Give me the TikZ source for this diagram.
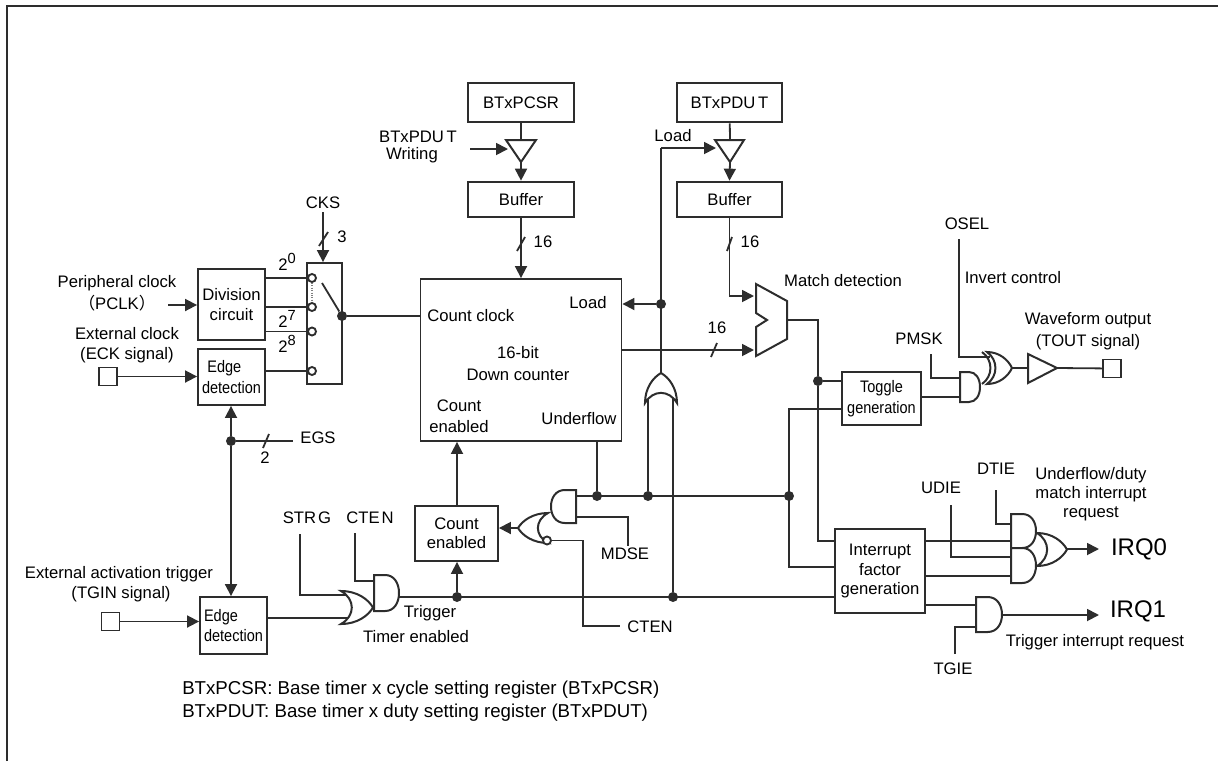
\documentclass[tikz,border=0pt]{standalone}
\usepackage{fontspec}
\setmainfont{Liberation Sans}
\newfontfamily\cjkparen{Noto Sans CJK SC}
\newfontfamily\tightfont[FakeStretch=0.87]{Liberation Sans}
\usetikzlibrary{positioning, arrows.meta}
\definecolor{wirecol}{RGB}{45,45,45}
\newcommand{\tfs}{\fontsize{12.5}{14.4}\selectfont}
\newcommand{\powlab}[1]{2\raisebox{5pt}{\fontsize{11}{11}\selectfont #1}}

\tikzset{
  wire/.style={draw=wirecol, line width=1.35pt},
  feed/.style={wire, -{Triangle[length=9pt,width=9pt]}},
  blockbox/.style 2 args={draw=wirecol, line width=1.4pt, fill=white,
                  minimum width=#1*0.75pt, minimum height=#2*0.75pt,
                  align=center, inner sep=0pt, font=\tfs},
  regbox/.style 2 args={blockbox={#1}{#2}, line width=2pt},
  pad/.style={draw=wirecol, line width=1.2pt, fill=white, minimum width=13.5pt, minimum height=13.5pt, inner sep=0pt},
  junction/.style={circle, fill=wirecol, minimum size=7.5pt, inner sep=0pt},
  contact/.style={circle, draw=wirecol, fill=white, line width=1.4pt, minimum size=6pt, inner sep=0pt},
  label/.style={font=\tfs, text=black, inner sep=0pt, align=center},
  legendtext/.style={label, anchor=west, font=\fontsize{14}{17}\selectfont},
  gate/.style={draw=wirecol, line width=1.5pt, fill=white},
  pics/andgate/.style={code={
    \path[gate] (0,-1) -- (0.45,-1) .. controls (0.8,-1) and (1,-0.55) .. (1,0)
      .. controls (1,0.55) and (0.8,1) .. (0.45,1) -- (0,1) -- cycle;
  }},
  pics/orgate/.style={code={
    \path[gate] (0,-1) .. controls (0.45,-0.5) and (0.45,0.5) .. (0,1)
      .. controls (0.5,1) and (0.85,0.5) .. (1,0)
      .. controls (0.85,-0.5) and (0.5,-1) .. (0,-1) -- cycle;
  }},
  pics/xorback/.style={code={
    \path[gate, fill=none] (0,-1) .. controls (0.45,-0.5) and (0.45,0.5) .. (0,1);
  }},
}

\begin{document}
\begin{tikzpicture}[x=0.75pt, y=-0.75pt]
\useasboundingbox (0,0) rectangle (1218,761);

% outer frame
\coordinate (frameBL) at (7,761);
\coordinate (frameTL) at (7,6);
\coordinate (frameTR) at (1218,6);
\draw[draw=wirecol, line width=1.6pt] (frameBL) -- (frameTL) -- (frameTR);

% blocks
\node[blockbox={67}{71}] (divbox) at (231.5,304.5) {Division\\circuit};
\node[blockbox={67}{56}, align=left, font=\tfs\tightfont] (edgetop) at (231.5,377) {\hspace*{4pt}Edge\\[2pt]detection};
\node[blockbox={67}{57}, align=left, font=\tfs\tightfont] (edgebot) at (233.5,625.5) {Edge\\detection};
\node[blockbox={35}{121}] (selbox) at (324.5,323.5) {};
\node[blockbox={201}{162}] (counter) at (521,360) {};
\node[regbox={106}{39}] (pcsr) at (521,102.5) {BTxPCSR};
\node[regbox={106}{35}] (bufl) at (521,199.5) {Buffer};
\node[regbox={105}{39}] (pdut) at (729.5,102.5) {BTxPDU\kern2pt T};
\node[regbox={105}{35}] (bufr) at (729.5,199.5) {Buffer};
\node[blockbox={83}{55}] (cntbox) at (456.5,533.5) {Count\\enabled};
\node[blockbox={79}{53}, font=\tfs\tightfont] (togbox) at (881.5,398.5) {Toggle\\[1pt]generation};
\node[blockbox={90}{84}] (irqbox) at (880,571) {Interrupt\hspace{15pt}\\[1pt]factor\hspace{2pt}\\generation};

% external pins
\node[pad] (eckpad) at (108,376.5) {};
\node[pad] (tginpad) at (110.5,621.5) {};
\node[pad] (toutpad) at (1112,368.5) {};

% junctions
\node[junction] (dotsel) at (342,316) {};
\node[junction] (dotegs) at (231,441) {};
\node[junction] (dotload) at (661,304) {};
\node[junction] (dotund) at (597,496) {};
\node[junction] (dotor) at (648,496) {};
\node[junction] (dotfact) at (789,496) {};
\node[junction] (dottrg) at (457,597) {};
\node[junction] (dotlong) at (673,597) {};
\node[junction] (dotmatch) at (818,381) {};

% switch contacts
\node[contact] (swa) at (312,278) {};
\node[contact] (swb) at (312,307) {};
\node[contact] (swc) at (312,331.5) {};
\node[contact] (swd) at (312,371) {};

% free ends and ports
\coordinate (ckstop) at (323,212);
\coordinate (blade) at (322,283);
\coordinate (pclkin) at (168,305);
\coordinate (egsend) at (293,441);
\coordinate (wrin) at (470,149);
\coordinate (trilin) at (508,149);
\coordinate (trilout) at (521,162);
\coordinate (trilup) at (521,140);
\coordinate (trirout) at (730,162);
\coordinate (trirup) at (730,140);
\coordinate (trirdin) at (716,148);
\coordinate (loadbend) at (661,148);
\coordinate (orout) at (661,373);
\coordinate (orinl) at (648,398);
\coordinate (orinr) at (673,398);
\coordinate (matcha) at (754,296);
\coordinate (matchb) at (754,350);
\coordinate (matchout) at (787,320);
\coordinate (andright) at (576,496);
\coordinate (andmdse) at (576,517);
\coordinate (mdsebend) at (628,517);
\coordinate (noroutp) at (518,528);
\coordinate (norbub) at (547,540.5);
\coordinate (norbend) at (583,540.5);
\coordinate (ctenbend) at (583,626);
\coordinate (mdseend) at (628,546);
\coordinate (ctenend) at (620,626);
\coordinate (strgend) at (300,534);
\coordinate (ctenup) at (355,533);
\coordinate (trigor) at (349,595);
\coordinate (edgeor) at (349,618);
\coordinate (trigand) at (376,581);
\coordinate (trigout) at (399,597);
\coordinate (oselend) at (959,239);
\coordinate (pmskend) at (931,354);
\coordinate (xorin) at (990,357);
\coordinate (andpa) at (960,378);
\coordinate (andpb) at (960,397);
\coordinate (xorout) at (1012,368);
\coordinate (buffin) at (1028,368);
\coordinate (buffout) at (1057,368);
\coordinate (factoa) at (835,541);
\coordinate (togleft) at (842,409);
\coordinate (togbend) at (789,409);
\coordinate (factbend) at (789,567);
\coordinate (factob) at (835,567);
\coordinate (cntup) at (457,506);
\coordinate (irqaout) at (925,541);
\coordinate (irqaand) at (1011,541);
\coordinate (irqbout) at (925,576);
\coordinate (irqband) at (1011,576);
\coordinate (irqcout) at (925,605);
\coordinate (irqcand) at (976,605);
\coordinate (udieend) at (951,505);
\coordinate (udiebend) at (951,557);
\coordinate (udieand) at (1011,557);
\coordinate (dtieend) at (996,490);
\coordinate (dtiebend) at (996,524);
\coordinate (dtieand) at (1011,524);
\coordinate (tgieend) at (955,654);
\coordinate (tgiebend) at (955,627);
\coordinate (tgieand) at (976,627);
\coordinate (irqa) at (1067,549);
\coordinate (irqaend) at (1099,549);
\coordinate (irqb) at (1002,615);
\coordinate (irqbend) at (1099,615);

% connectors
\draw[feed] (ckstop) -- (ckstop |- selbox.north);
\draw[feed] (pclkin) -- (pclkin -| divbox.west);
\draw[feed] (eckpad) -- (eckpad -| edgetop.west);
\draw[feed] (tginpad) -- (tginpad -| edgebot.west);
\draw[wire] (swa -| divbox.east) -- (swa);
\draw[wire] (swb -| divbox.east) -- (swb);
\draw[wire] (swc -| divbox.east) -- (swc);
\draw[wire] (swd -| edgetop.east) -- (swd);
\draw[densely dotted, draw=gray, line width=0.8pt] (swa) -- (swb);
\draw[wire] (blade) -- (dotsel);
\draw[wire] (dotsel) -- (dotsel -| counter.west);
\draw[feed] (dotegs) -- (dotegs |- edgetop.south);
\draw[feed] (dotegs) -- (dotegs |- edgebot.north);
\draw[wire] (dotegs) -- (egsend);
\draw[wire] (pcsr) -- (trilup);
\draw[feed] (wrin) -- (trilin);
\draw[feed] (trilout) -- (bufl.north);
\draw[feed] (bufl) -- (counter.north -| bufl);
\draw[wire] (pdut) -- (trirup);
\draw[feed] (trirout) -- (bufr.north);
\draw[feed] (loadbend) -- (trirdin);
\draw[wire] (loadbend) -- (orout);
\draw[feed] (dotload) -- (dotload -| counter.east);
\draw[feed] (bufr.south) -- (bufr.south |- matcha) -- (matcha);
\draw[feed] (matchb -| counter.east) -- (matchb);
\draw[wire] (matchout) -- (matchout -| dotmatch) -- (dotmatch);
\draw[wire] (dotmatch) -- (dotmatch |- factoa) -- (factoa);
\draw[wire] (dotmatch) -- (dotmatch -| togbox.west);
\draw[wire] (dotund |- counter.south) -- (dotund);
\draw[wire] (andright) -- (dotfact);
\draw[wire] (dotor) -- (orinl);
\draw[wire] (dotlong) -- (orinr);
\draw[wire] (togleft) -- (togbend) -- (factbend) -- (factob);
\draw[feed] (cntup) -- (cntup |- counter.south);
\draw[feed] (dottrg) -- (dottrg |- cntbox.south);
\draw[feed] (noroutp) -- (noroutp -| cntbox.east);
\draw[wire] (andmdse) -- (mdsebend) -- (mdseend);
\draw[wire] (norbub) -- (norbend) -- (ctenbend) -- (ctenend);
\draw[wire] (trigout) -- (irqbox.west |- trigout);
\draw[wire] (strgend) -- (strgend |- trigor) -- (trigor);
\draw[wire] (ctenup) -- (ctenup |- trigand) -- (trigand);
\draw[wire] (edgebot.east |- edgeor) -- (edgeor);
\draw[wire] (oselend) -- (oselend |- xorin) -- (xorin);
\draw[wire] (pmskend) -- (pmskend |- andpa) -- (andpa);
\draw[wire] (togbox.east |- andpb) -- (andpb);
\draw[wire] (xorout) -- (buffin);
\draw[wire] (buffout) -- (toutpad);
\draw[wire] (irqaout) -- (irqaand);
\draw[wire] (irqbout) -- (irqband);
\draw[wire] (udieend) -- (udiebend) -- (udieand);
\draw[wire] (dtieend) -- (dtiebend) -- (dtieand);
\draw[wire] (irqcout) -- (irqcand);
\draw[wire] (tgieend) -- (tgiebend) -- (tgieand);
\draw[feed] (irqa) -- (irqaend);
\draw[feed] (irqb) -- (irqbend);

% bus marks
\draw[wire] (319,246) -- (328,232);
\draw[wire] (263,448) -- (269,434);
\draw[wire] (517,251) -- (525,237);
\draw[wire] (727,251) -- (732,237);
\draw[wire] (711,357) -- (717,343);

% tristate triangles, output driver, comparator
\draw[gate] (506,140) -- (536,140) -- (521,162) -- cycle;
\draw[gate] (715,140) -- (744,140) -- (730,162) -- cycle;
\draw[gate] (1028,354) -- (1057,368) -- (1028,383) -- cycle;
\draw[gate] (756,284) -- (787,301) -- (787,339) -- (756,356) -- (756,327) -- (767,320) -- (756,313) -- cycle;

% logic gates
\pic[rotate=90, xscale=30, yscale=16] (orload) at (661,403) {orgate};
\pic[rotate=180, xscale=30, yscale=15] (nordrv) at (548,528) {orgate};
\node[contact] (norcirc) at (norbub) {};
\pic[rotate=180, xscale=25, yscale=16.5] (andlow) at (576,506.5) {andgate};
\pic[xscale=32, yscale=16.5] (ortrg) at (341,607.5) {orgate};
\pic[xscale=25, yscale=18] (andtrg) at (374,593) {andgate};
\pic[xscale=25, yscale=16] (xormain) at (987,368) {orgate};
\pic[xscale=25, yscale=16] (xorextra) at (982,368) {xorback};
\pic[xscale=20, yscale=15] (andout) at (960,387) {andgate};
\pic[xscale=30, yscale=16.5] (orirq) at (1037,549.5) {orgate};
\pic[xscale=25, yscale=17] (andirqa) at (1011,531) {andgate};
\pic[xscale=25, yscale=17.5] (andirqb) at (1011,565.5) {andgate};
\pic[xscale=26, yscale=17.5] (andirqc) at (976,614.5) {andgate};

% labels, left part
\node[label] (pclklab) at (117,283) {Peripheral clock};
\node[label] (pclksig) at (117,303) {{\cjkparen （}PCLK{\cjkparen ）}};
\node[label] (ecklab) at (127,334) {External clock};
\node[label] (ecksig) at (127,355) {(ECK signal)};
\node[label] (tginlab) at (119,574) {External activation trigger};
\node[label] (tginsig) at (121,594) {(TGIN signal)};
\node[label] (ckslab) at (323,203) {CKS};
\node[label] (cksbits) at (342,237) {3};
\node[label] (pow0) at (287,262) {\powlab{0}};
\node[label] (pow7) at (287,319) {\powlab{7}};
\node[label] (pow8) at (287,344) {\powlab{8}};
\node[label] (egslab) at (318,438) {EGS};
\node[label] (egsbits) at (265,458) {2};
\node[label] (strglab) at (307,518) {STR\kern1.5pt G};
\node[label] (ctenlab) at (370,518) {CTE\kern1.5pt N};
\node[label] (triglab) at (430,613) {Trigger};
\node[label] (timerlab) at (416,637) {Timer enabled};
\node[legendtext] (legenda) at (182,690) {BTxPCSR: Base timer x cycle setting register (BTxPCSR)};
\node[legendtext] (legendb) at (182,713) {BTxPDUT: Base timer x duty setting register (BTxPDUT)};

% labels, middle part
\node[label] (wrlaba) at (418,137) {BTxPDU\kern2pt T};
\node[label] (wrlabb) at (412,155) {Writing};
\node[label] (bitsl) at (543,242) {16};
\node[label] (bitsr) at (750,242) {16};
\node[label] (bitsm) at (717,328) {16};
\node[label] (loadtop) at (673,136) {Load};
\node[label] (loadin) at (588,303) {Load};
\node[label, anchor=west] (clkin) at (427,316) {Count clock};
\node[label] (cntname) at (518,363.5) {16-bit\\[2pt]Down counter};
\node[label] (cnten) at (459,416) {Count\\[1pt]enabled};
\node[label] (undlab) at (579,419) {Underflow};
\node[label] (mdselab) at (625,554) {MDSE};
\node[label] (ctenlow) at (650,627) {CTEN};

% labels, right part
\node[label] (matchlab) at (843,281) {Match detection};
\node[label] (osellab) at (967,224) {OSEL};
\node[label] (invlab) at (1013,278) {Invert control};
\node[label] (pmsklab) at (919,339) {PMSK};
\node[label] (wavelab) at (1088,331) {Waveform output\\[2pt](TOUT signal)};
\node[label] (udielab) at (941,488) {UDIE};
\node[label] (dtielab) at (996,469) {DTIE};
\node[label] (undreq) at (1091,494) {Underflow/duty\\match interrupt\\request};
\node[label, font=\fontsize{18}{20}\selectfont] (irq0lab) at (1139,549) {IRQ0};
\node[label, font=\fontsize{18}{20}\selectfont] (irq1lab) at (1138,611) {IRQ1};
\node[label] (trgreq) at (1095,642) {Trigger interrupt request};
\node[label] (tgielab) at (953,669) {TGIE};
\end{tikzpicture}
\end{document}
